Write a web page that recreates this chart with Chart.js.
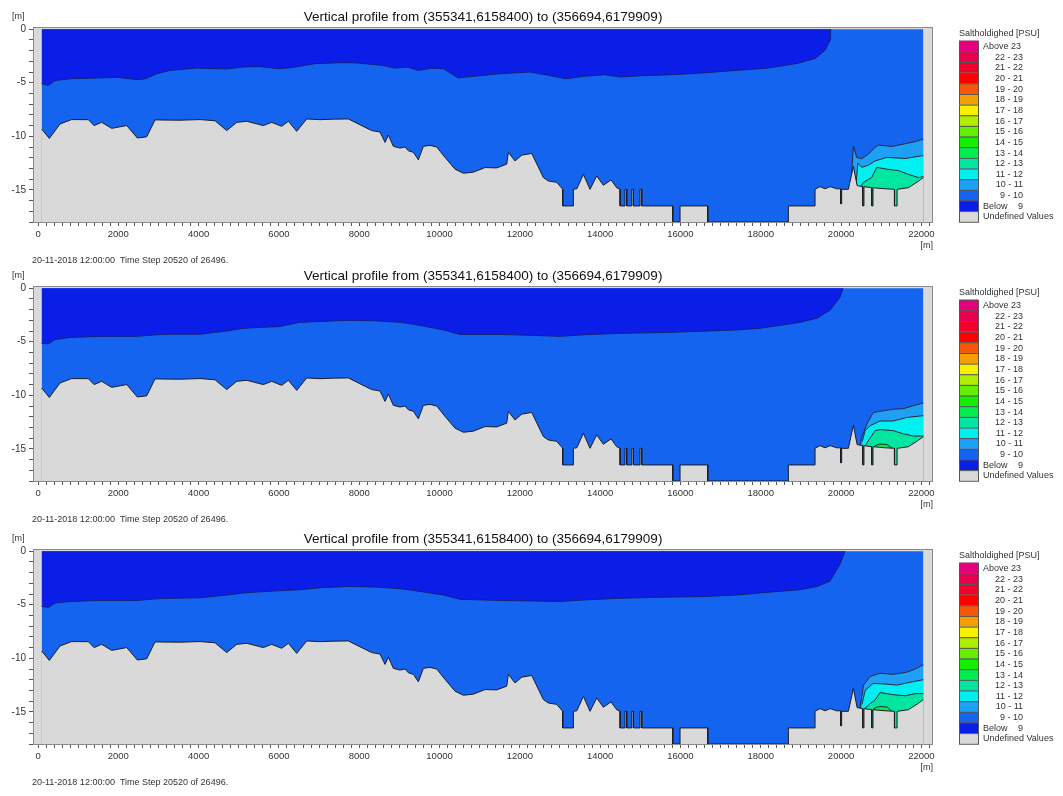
<!DOCTYPE html>
<html>
<head>
<meta charset="utf-8">
<script src="https://cdn.jsdelivr.net/npm/chart.js@4.4.1/dist/chart.umd.min.js"></script>
<style>
  body { margin: 0; background: #fff; width: 1063px; height: 796px; overflow: hidden; position: relative; }
  canvas { position: absolute; left: 0; }
</style>
</head>
<body>
<canvas id="p1" width="1063" height="275" style="top:0px"></canvas>
<canvas id="p2" width="1063" height="275" style="top:259px"></canvas>
<canvas id="p3" width="1063" height="275" style="top:522px"></canvas>
<script>
// Salinity classes shown in the legend
const legendLabels = ['Above 23', '22 - 23', '21 - 22', '20 - 21', '19 - 20', '18 - 19', '17 - 18', '16 - 17',
  '15 - 16', '14 - 15', '13 - 14', '12 - 13', '11 - 12', '10 - 11', '9 - 10', 'Below  9', 'Undefined Values'];
const legendColors = ['#e6007e', '#e8004e', '#f0002a', '#ff0000', '#f5560a', '#f5a000', '#f8f000', '#b0ee00',
  '#66ee00', '#14ee00', '#00ee50', '#00e6a0', '#00f0f0', '#1ea0f5', '#1464f0', '#0a1ee8', '#d9d9d9'];

const profileTitle = 'Vertical profile from (355341,6158400) to (356694,6179909)';
const stampText = '20-11-2018 12:00:00  Time Step 20520 of 26496.';

// Axis ticks: labelled distances and depths
const xTickLabels = [0, 2000, 4000, 6000, 8000, 10000, 12000, 14000, 16000, 18000, 20000, 22000];
const yTickLabels = [0, -5, -10, -15];

// Distance along the section [m] and bed level [m]
const bedX = [90, 282, 548, 838, 1254, 1395, 1586, 1835, 2209, 2474, 2707, 2914, 3537, 4035, 4408, 4699, 4949,
  5198, 5611, 5820, 6069, 6235, 6443, 6692, 7024, 7356, 7729, 7978, 8311, 8518, 8643, 8725, 8850, 9016, 9141,
  9223, 9350, 9473, 9597, 9763, 9930, 10137, 10386, 10594, 10842, 11133, 11424, 11673, 11714, 11880, 12047,
  12296, 12586, 12710, 12919, 13068, 13068, 13333, 13333, 13420, 13582, 13748, 13914, 14080, 14271, 14413,
  14496, 14496, 14620, 14620, 14662, 14662, 14787, 14787, 14828, 14828, 14994, 14994, 15035, 15035, 15808,
  15808, 15990, 15990, 16680, 16680, 18688, 18688, 19352, 19352, 19477, 19600, 19730, 19892, 19990, 19990,
  20015, 20015, 20182, 20307, 20400, 20540, 20540, 20570, 20570, 20765, 20765, 20795, 20795, 21100, 21330,
  21330, 21395, 21395, 21677, 21926, 22050];
const bedY = [-9.32, -10.2, -8.85, -8.44, -8.45, -9.0, -8.7, -9.26, -9.0, -10.16, -10.05, -8.47, -8.5, -8.44,
  -8.55, -9.47, -8.7, -8.6, -9.0, -8.7, -9.07, -8.6, -9.54, -8.38, -8.45, -8.4, -8.38, -8.85, -9.47, -9.6,
  -10.57, -9.88, -10.94, -11.1, -11.0, -11.35, -11.5, -12.2, -10.94, -10.85, -11.0, -11.97, -13.07, -13.45,
  -13.35, -12.92, -12.95, -12.6, -11.5, -12.3, -11.76, -11.6, -13.85, -14.17, -14.3, -14.95, -16.5, -16.5,
  -14.95, -14.9, -13.55, -14.95, -13.7, -14.57, -14.07, -14.8, -14.95, -16.5, -16.5, -14.95, -14.95, -16.5,
  -16.5, -14.95, -14.95, -16.5, -16.5, -14.95, -14.95, -16.5, -16.5, -18, -18, -16.5, -16.5, -18, -18, -16.5,
  -16.5, -14.95, -14.7, -14.9, -14.7, -14.9, -14.9, -16.3, -16.3, -14.95, -14.95, -12.8, -14.6, -14.7, -16.5,
  -16.5, -14.7, -14.8, -16.5, -16.5, -14.8, -14.9, -14.95, -16.5, -16.5, -14.95, -14.8, -14.2, -13.85];

// Water surface over the wet part of the section
const surfX = [90, 22050];
const surfY = [0, 0];

// Lower edge of the "Below 9" water, one list per time panel
const halo1X = [90, 257, 423, 797, 1461, 1960, 2458, 2665, 2956, 3288, 3952, 4699, 5114, 5529, 5985, 6300, 6899,
  7480, 7945, 8560, 8892, 9200, 9473, 9800, 10100, 10468, 10700, 11133, 11507, 12254, 12700, 13150, 13600,
  14122, 14496, 15000, 15800, 16613, 17400, 18190, 18900, 19352, 19602, 19726, 19740];
const halo1Y = [-5.1, -5.25, -4.8, -4.63, -4.56, -4.5, -4.7, -4.65, -4.16, -3.85, -3.63, -3.72, -3.53, -3.5,
  -3.69, -3.6, -3.22, -3.13, -3.15, -3.38, -3.63, -3.55, -3.85, -3.65, -3.7, -4.56, -4.45, -4.3, -4.16, -4.0,
  -4.3, -4.63, -4.4, -4.25, -4.47, -4.35, -4.25, -4.07, -3.85, -3.63, -3.2, -2.75, -1.97, -1.03, 0];
const halo2X = [90, 257, 423, 797, 1544, 2458, 2956, 3288, 4035, 4699, 5114, 5529, 5985, 6525, 7100, 7771,
  8400, 9016, 9400, 9763, 10100, 10511, 11507, 12254, 13001, 13600, 14496, 15500, 16488, 17400, 17983, 18979,
  19400, 19726, 19975, 20050];
const halo2Y = [-5.16, -5.2, -4.8, -4.6, -4.5, -4.5, -4.35, -4.3, -4.3, -4.0, -3.75, -3.66, -3.6, -3.19, -3.1,
  -3.0, -3.05, -3.19, -3.4, -3.66, -3.9, -4.32, -4.32, -4.4, -4.5, -4.35, -4.22, -4.15, -4.03, -3.9, -3.75,
  -3.19, -2.8, -2.06, -0.84, 0];
const halo3X = [90, 257, 423, 797, 1544, 2458, 2956, 3288, 4035, 4699, 5114, 5529, 5985, 6525, 7100, 7771,
  8400, 9016, 9400, 9763, 10100, 10511, 11507, 12254, 13001, 13600, 14496, 15500, 16488, 17400, 17983, 18979,
  19400, 19726, 19975, 20100];
const halo3Y = [-5.16, -5.25, -4.85, -4.7, -4.6, -4.6, -4.45, -4.4, -4.35, -4.1, -3.9, -3.8, -3.7, -3.6, -3.4,
  -3.3, -3.35, -3.5, -3.7, -3.9, -4.1, -4.5, -4.6, -4.65, -4.7, -4.55, -4.4, -4.3, -4.25, -4.1, -3.9, -3.6,
  -3.3, -2.8, -1.2, 0];

// Upper edges of the 10-11, 11-12, 12-13 and 13-14 PSU water near the inner end
const top10p1X = [20240, 20307, 20390, 20515, 20680, 20847, 20930, 21262, 21594, 21843, 22050];
const top10p1Y = [-14.95, -10.9, -11.97, -12.1, -11.67, -11.04, -10.82, -10.95, -10.7, -10.5, -10.26];
const top11p1X = [20380, 20420, 20515, 20680, 20847, 21137, 21594, 22050];
const top11p1Y = [-14.2, -12.5, -12.9, -12.7, -12.3, -11.97, -12.07, -11.8];
const top12p1X = [20480, 20556, 20764, 20888, 21137, 21428, 21677, 21926, 22050];
const top12p1Y = [-14.75, -14.3, -13.85, -12.9, -13.07, -13.2, -13.55, -13.85, -13.75];

const top10p2X = [20470, 20515, 20640, 20805, 21050, 21303, 21550, 21801, 22050];
const top10p2Y = [-14.7, -13.95, -12.7, -11.6, -11.45, -11.3, -11.25, -10.98, -10.72];
const top11p2X = [20530, 20600, 20720, 20971, 21303, 21636, 22050];
const top11p2Y = [-14.3, -13.3, -12.85, -12.4, -12.4, -12.07, -11.9];
const top12p2X = [20600, 20847, 20971, 21303, 21552, 21800, 22050];
const top12p2Y = [-14.7, -13.3, -13.2, -13.3, -13.6, -13.8, -13.8];
const top13p2X = [20780, 20850, 20971, 21150, 21290];
const top13p2Y = [-15.0, -14.7, -14.55, -14.6, -15.0];

const top10p3X = [20470, 20560, 20722, 20971, 21300, 21636, 21850, 22050];
const top10p3Y = [-14.7, -12.5, -11.7, -11.4, -11.5, -11.3, -11.0, -10.6];
const top11p3X = [20520, 20600, 20800, 21100, 21400, 21636, 22050];
const top11p3Y = [-14.3, -13.0, -12.35, -12.4, -12.5, -12.3, -12.0];
const top12p3X = [20560, 20700, 20847, 20971, 21300, 21600, 21850, 22050];
const top12p3Y = [-14.8, -14.3, -13.9, -13.2, -13.4, -13.5, -13.3, -13.3];
const top13p3X = [20780, 20850, 20971, 21150, 21280];
const top13p3Y = [-15.0, -14.6, -14.5, -14.55, -15.0];

const FONT = "'Liberation Sans', Arial, sans-serif";
const C = Object.fromEntries(legendLabels.map((l, i) => [l, legendColors[i]]));

function pts(xs, ys) { return xs.map((x, i) => ({ x: x, y: ys[i] })); }

function layer(xs, ys, color, order) {
  return { data: pts(xs, ys), fill: 'start', backgroundColor: color, borderColor: '#2a2a3a',
    borderWidth: 1, pointRadius: 0, tension: 0, order: order };
}

// minor ticks every `step` between the labelled ones
function minorTicks(scale, step, from, to) {
  const t = [];
  for (let v = from; v <= to + 1e-9; v += step) t.push({ value: Math.round(v * 1000) / 1000 });
  scale.ticks = t;
}

const decorations = {
  id: 'decorations',
  beforeDraw(chart) {
    const a = chart.chartArea, ctx = chart.ctx;
    ctx.save();
    ctx.fillStyle = C['Undefined Values'];
    ctx.fillRect(a.left, a.top, a.right - a.left, a.bottom - a.top);
    ctx.restore();
  },
  afterDraw(chart) {
    const a = chart.chartArea, ctx = chart.ctx;
    ctx.save();
    ctx.strokeStyle = '#8a8a8a';
    ctx.lineWidth = 1;
    ctx.strokeRect(a.left + 0.5, a.top + 0.5, a.right - a.left - 1, a.bottom - a.top);
    ctx.fillStyle = '#111';
    ctx.font = '13.5px ' + FONT;
    ctx.textAlign = 'center';
    ctx.textBaseline = 'middle';
    ctx.fillText(profileTitle, (a.left + a.right) / 2, 17.5);
    ctx.font = '9px ' + FONT;
    ctx.fillStyle = '#333';
    ctx.textAlign = 'left';
    ctx.fillText('[m]', 12, 16.5);
    ctx.textAlign = 'right';
    ctx.fillText('[m]', a.right, 246);
    ctx.textAlign = 'left';
    ctx.fillText(stampText, 32, 261);
    // legend
    ctx.fillText('Saltholdighed [PSU]', 959, 33.5);
    const rowH = 10.65, top = 40.7;
    legendLabels.forEach((lab, i) => {
      const y = top + i * rowH;
      ctx.fillStyle = legendColors[i];
      ctx.fillRect(959, y, 19, rowH);
      ctx.strokeStyle = '#555';
      ctx.strokeRect(959.5, y + 0.5, 19, rowH);
      ctx.fillStyle = '#333';
      const cy = y + rowH / 2 + 0.5;
      if (lab === 'Above 23' || lab === 'Undefined Values') {
        ctx.textAlign = 'left';
        ctx.fillText(lab, 983, cy);
      } else if (lab.startsWith('Below')) {
        ctx.textAlign = 'left';
        ctx.fillText('Below', 983, cy);
        ctx.textAlign = 'right';
        ctx.fillText('9', 1023, cy);
      } else {
        ctx.textAlign = 'right';
        ctx.fillText(lab, 1023, cy);
      }
    });
    ctx.restore();
  }
};

function makePanel(id, halo, layers) {
  const datasets = [
    { data: pts(bedX, bedY), fill: 'start', backgroundColor: C['Undefined Values'], borderColor: '#1c1c24',
      borderWidth: 1, pointRadius: 0, tension: 0, order: 1 }
  ];
  layers.forEach((l, i) => datasets.push(layer(l[0], l[1], l[2], 2 + i)));
  datasets.push({ data: pts(halo[0], halo[1]), fill: { value: 0 }, backgroundColor: C['Below  9'],
    borderColor: '#14207a', borderWidth: 1, pointRadius: 0, tension: 0, order: 8 });
  datasets.push({ data: pts(surfX, surfY), fill: 'start', backgroundColor: C['9 - 10'],
    borderWidth: 0, pointRadius: 0, tension: 0, order: 9 });

  new Chart(document.getElementById(id), {
    type: 'line',
    data: { datasets: datasets },
    plugins: [decorations],
    options: {
      responsive: false,
      animation: false,
      events: [],
      devicePixelRatio: 1,
      layout: { padding: { top: 27, right: 130, left: 0, bottom: 0 } },
      plugins: { legend: { display: false }, tooltip: { enabled: false }, title: { display: false } },
      scales: {
        x: {
          type: 'linear', min: -125, max: 22290,
          afterFit(s) { s.height = 53; },
          afterBuildTicks(s) { minorTicks(s, 200, 0, xTickLabels[xTickLabels.length - 1] + 200); },
          border: { display: false },
          grid: { drawOnChartArea: false, drawTicks: true, tickLength: 4, tickColor: '#555' },
          ticks: { autoSkip: false, maxRotation: 0, padding: 3, color: '#333',
            font: { family: FONT, size: 9.5 },
            callback: v => xTickLabels.includes(v) ? String(v) : '' }
        },
        y: {
          type: 'linear', min: -18, max: 0.2,
          afterFit(s) { s.width = 33; },
          afterBuildTicks(s) { minorTicks(s, 1, -18, 0); },
          border: { display: false },
          grid: { drawOnChartArea: false, drawTicks: true, tickLength: 4, tickColor: '#555' },
          ticks: { autoSkip: false, padding: 3, color: '#333',
            font: { family: FONT, size: 10 },
            callback: v => yTickLabels.includes(v) ? String(v) : '' }
        }
      }
    }
  });
}

makePanel('p1', [halo1X, halo1Y], [
  [top12p1X, top12p1Y, C['12 - 13']],
  [top11p1X, top11p1Y, C['11 - 12']],
  [top10p1X, top10p1Y, C['10 - 11']]
]);
makePanel('p2', [halo2X, halo2Y], [
  [top13p2X, top13p2Y, C['13 - 14']],
  [top12p2X, top12p2Y, C['12 - 13']],
  [top11p2X, top11p2Y, C['11 - 12']],
  [top10p2X, top10p2Y, C['10 - 11']]
]);
makePanel('p3', [halo3X, halo3Y], [
  [top13p3X, top13p3Y, C['13 - 14']],
  [top12p3X, top12p3Y, C['12 - 13']],
  [top11p3X, top11p3Y, C['11 - 12']],
  [top10p3X, top10p3Y, C['10 - 11']]
]);
</script>
</body>
</html>
